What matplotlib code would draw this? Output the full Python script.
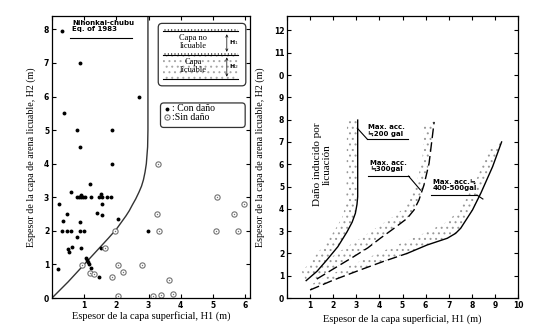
import numpy as np
import matplotlib
matplotlib.use('Agg')
import matplotlib.pyplot as plt
from matplotlib.patches import FancyBboxPatch, Rectangle, Polygon

plt.rcParams['hatch.linewidth'] = 0.7

# ---- panel izquierdo: casos del sismo Nihonkai-chubu
x_con = [0.30, 0.87, 2.70, 0.38, 0.78, 1.85, 0.88, 1.87,
         1.18, 0.59, 0.22, 0.77, 0.85, 0.90, 0.95, 1.02, 1.20, 1.47, 1.54, 1.70, 1.82, 0.89, 1.52,
         1.54, 0.48, 1.41, 1.54, 0.35, 0.87, 2.06,
         0.30, 0.46, 0.59, 0.87, 1.00, 0.77,
         0.50, 0.54, 0.61, 0.90, 0.18,
         1.06, 1.10, 1.11, 1.14, 1.20, 1.47, 1.51, 2.97]
y_con = [7.95, 7.0, 6.0, 5.5, 5.0, 5.0, 4.5, 4.0,
         3.39, 3.15, 2.81, 3.0, 3.0, 3.0, 3.0, 3.0, 3.0, 3.0, 3.0, 3.0, 3.0, 3.07, 3.09,
         2.80, 2.50, 2.53, 2.46, 2.28, 2.25, 2.35,
         2.0, 2.0, 2.0, 2.0, 2.0, 1.83,
         1.45, 1.38, 1.51, 1.5, 0.86,
         1.2, 1.13, 1.07, 1.02, 0.89, 0.64, 1.5, 2.0]
x_sin = [3.30, 1.96, 1.66, 0.92, 1.18, 1.30, 2.04, 1.87, 2.21, 2.78, 2.04,
         5.13, 5.96, 3.25, 5.66, 3.33, 5.09, 5.77, 3.63, 3.15, 3.38, 3.77]
y_sin = [4.0, 2.0, 1.48, 0.98, 0.74, 0.71, 0.98, 0.64, 0.76, 0.99, 0.07,
         3.0, 2.8, 2.5, 2.51, 2.0, 2.0, 2.0, 0.54, 0.05, 0.10, 0.12]

# frontera
bx = [0, 0.25, 0.5, 0.75, 1.0, 1.25, 1.5, 1.75, 2.0, 2.15, 2.3, 2.4, 2.5, 2.6, 2.7, 2.78,
      2.84, 2.89, 2.93, 2.95, 2.97, 2.98, 2.98]
by = [0, 0.24, 0.48, 0.74, 1.0, 1.26, 1.52, 1.78, 2.05, 2.25, 2.45, 2.6, 2.78, 2.95, 3.15, 3.33,
      3.52, 3.75, 4.0, 4.25, 4.5, 5.0, 8.4]

# ---- panel derecho: curvas por aceleracion maxima
c1x = [0.83, 1.3, 1.72, 2.2, 2.6, 2.82, 2.96, 3.03, 3.06, 3.06, 3.06]
c1y = [0.78, 1.2, 1.7, 2.3, 2.97, 3.4, 3.8, 4.2, 4.54, 6.0, 7.98]
b1x = [0.64, 1.0, 1.43, 1.85, 2.16, 2.38, 2.48, 2.55, 2.57, 2.58, 2.6]
b1y = [1.18, 1.6, 2.15, 2.7, 3.2, 3.6, 3.95, 4.3, 4.7, 6.0, 8.0]

c2x = [1.29, 2.0, 2.88, 3.5, 4.04, 4.6, 5.2, 5.5, 5.71, 5.93, 6.15, 6.37]
c2y = [0.85, 1.3, 1.85, 2.25, 2.68, 3.1, 3.57, 3.95, 4.39, 5.07, 6.04, 7.9]
b2x = [1.0, 1.8, 2.6, 3.3, 4.04, 4.6, 5.06, 5.4, 5.64, 5.86, 5.93]
b2y = [1.1, 1.75, 2.3, 2.75, 3.27, 3.65, 4.02, 4.6, 5.3, 6.2, 7.76]

c3dx = [1.0, 2.0, 3.17, 4.2, 5.2]
c3dy = [0.36, 0.8, 1.26, 1.65, 2.0]
c3x = [5.2, 6.07, 6.94, 7.3, 7.52, 8.03, 8.39, 8.9, 9.29]
c3y = [2.0, 2.38, 2.68, 2.9, 3.13, 3.95, 4.7, 5.89, 7.0]
b3x = [1.14, 2.4, 3.6, 4.7, 5.78, 6.94, 7.4, 7.81, 8.25, 8.68]
b3y = [0.66, 1.3, 1.85, 2.35, 2.83, 3.42, 3.9, 4.54, 5.44, 6.64]

serif = 'Liberation Serif'
sans = 'DejaVu Sans'
ylab = 'Espesor de la capa de arena licuable, H2 (m)'
xlab = 'Espesor de la capa superficial, H1 (m)'

fig = plt.figure(figsize=(5.55, 3.33), dpi=100)
ax1 = fig.add_axes([52/555, 35/333, 198/555, 282/333])
ax2 = fig.add_axes([287/555, 35/333, 231/555, 282/333])

for ax in (ax1, ax2):
    ax.tick_params(direction='in', length=3, width=0.8, top=True, right=True,
                   labelsize=5.5, pad=2)
    for s in ax.spines.values():
        s.set_linewidth(0.9)

# ---------- izquierdo
ax1.plot(bx, by, color='0.2', lw=1.0)
ax1.plot(x_con, y_con, 'o', color='black', ms=2.8, mew=0)
ax1.plot(x_sin, y_sin, 'o', mfc='white', mec='0.45', ms=3.8, mew=0.8)
ax1.plot(x_sin, y_sin, 'o', color='0.45', ms=1.0, mew=0)
ax1.set_xlim(0, 6.15)
ax1.set_ylim(0, 8.4)
ax1.set_xticks(range(0, 7))
ax1.set_xticklabels(['', '1', '2', '3', '4', '5', '6'], fontweight='bold')
ax1.set_yticks(range(0, 9))
ax1.set_yticklabels([str(i) for i in range(9)], fontweight='bold')
ax1.set_xlabel(xlab, family=serif, fontsize=7.5, labelpad=1)
ax1.set_ylabel(ylab, family=serif, fontsize=7.2, labelpad=6)

ax1.text(0.62, 8.1, 'Nihonkai-chubu\nEq. of 1983', family=sans, fontweight='bold',
         fontsize=5, va='center', ha='left', linespacing=1.1)
ax1.plot([0.56, 2.48], [7.73, 7.73], color='black', lw=0.8)

# esquema de capas
ax1.add_patch(FancyBboxPatch((3.3, 6.32), 2.72, 1.86, boxstyle='round,pad=0,rounding_size=0.12',
                             fc='white', ec='0.2', lw=0.9, zorder=3))
ax1.add_patch(Rectangle((3.45, 7.94), 2.33, 0.06, fc='none', ec='0.3', lw=0, hatch='|||||', zorder=4))
ax1.plot([3.45, 5.78], [7.94, 7.94], color='black', lw=0.8, zorder=5)
ax1.add_patch(Rectangle((3.45, 6.51), 2.33, 0.74, fc='white', ec='0.65', lw=0, hatch='...', zorder=4))
ax1.add_patch(Rectangle((3.45, 7.25), 2.33, 0.05, fc='none', ec='0.3', lw=0, hatch='|||||', zorder=4))
ax1.plot([3.45, 5.78], [7.25, 7.25], color='black', lw=0.8, zorder=5)
ax1.plot([3.45, 5.78], [6.51, 6.51], color='black', lw=0.8, zorder=5)
ax1.text(4.38, 7.62, 'Capa no\nlicuable', family=serif, fontsize=6, ha='center', va='center',
         linespacing=1.0, zorder=6)
ax1.text(4.38, 6.9, 'Capa\nlicuable', family=serif, fontsize=6, ha='center', va='center',
         linespacing=1.0, zorder=6)
for y0, y1, lab in [(7.94, 7.25, 'H$_1$'), (7.25, 6.51, 'H$_2$')]:
    ax1.annotate('', xy=(5.43, y0), xytext=(5.43, y1),
                 arrowprops=dict(arrowstyle='<->', lw=0.5, mutation_scale=4), zorder=6)
    ax1.text(5.5, (y0 + y1) / 2, lab, family=sans, fontsize=4.5, fontweight='bold',
             va='center', zorder=6)

# leyenda
ax1.add_patch(FancyBboxPatch((3.37, 5.08), 2.63, 0.73, boxstyle='round,pad=0,rounding_size=0.1',
                             fc='white', ec='0.2', lw=0.9, zorder=3))
ax1.plot([3.57], [5.64], 'o', color='black', ms=2.8, mew=0, zorder=6)
ax1.plot([3.57], [5.38], 'o', mfc='white', mec='0.45', ms=3.8, mew=0.8, zorder=6)
ax1.plot([3.57], [5.38], 'o', color='0.45', ms=1.0, mew=0, zorder=6)
ax1.text(3.72, 5.64, ': Con daño', family=serif, fontsize=7, va='center', zorder=6)
ax1.text(3.72, 5.38, ':Sin daño', family=serif, fontsize=7, va='center', zorder=6)

# ---------- derecho
bands = [(c1x, c1y, b1x, b1y), (c2x, c2y, b2x, b2y),
         (c3dx + c3x[1:], c3dy + c3y[1:], b3x, b3y)]
for cx, cy, ex, ey in bands:
    pts = np.column_stack([cx + ex[::-1], cy + ey[::-1]])
    ax2.add_patch(Polygon(pts, closed=True, fc='white', ec='0.6', lw=0, hatch='...'))

ax2.plot(c1x, c1y, color='black', lw=1.0)
ax2.plot(c2x, c2y, color='black', lw=1.0, dashes=(7, 3))
ax2.plot(c3dx, c3dy, color='black', lw=1.0, dashes=(7, 3))
ax2.plot(c3x, c3y, color='black', lw=1.0)
ax2.set_xlim(0, 10)
ax2.set_ylim(0, 12.65)
ax2.set_xticks(range(0, 11))
ax2.set_xticklabels([''] + [str(i) for i in range(1, 11)], fontweight='bold')
ax2.set_yticks(range(0, 13))
ax2.set_yticklabels(['0', '1', '2', '3', '4', '5', '6', '7', '8', '9', '0', '11', '12'],
                    fontweight='bold')
ax2.set_xlabel(xlab, family=serif, fontsize=7.5, labelpad=3)
ax2.set_ylabel(ylab, family=serif, fontsize=7.2, labelpad=6)

ax2.text(1.55, 6.0, 'Daño inducido por\nlicuación', family=serif, fontsize=8, rotation=90,
         ha='center', va='center', linespacing=1.1)

notes = [(3.52, 7.53, 'Max. acc.\n≒200 gal', 7.12, 3.48, 5.22, (3.48, 7.12), (3.04, 7.62)),
         (3.6, 5.92, 'Max. acc.\n≒300gal', 5.47, 3.52, 5.26, (5.26, 5.47), (5.78, 4.84)),
         (6.3, 5.07, 'Max. acc.≒\n400-500gal', 4.62, 6.22, 8.22, (8.22, 4.62), (8.48, 4.44))]
for tx, ty, txt, uy, ux0, ux1, p0, p1 in notes:
    ax2.text(tx, ty, txt, family=sans, fontsize=5, fontweight='bold', va='center',
             ha='left', linespacing=1.15)
    ax2.plot([ux0, ux1], [uy, uy], color='black', lw=0.8)
    ax2.plot([p0[0], p1[0]], [p0[1], p1[1]], color='black', lw=0.8)

fig.savefig('out.png', dpi=100)
